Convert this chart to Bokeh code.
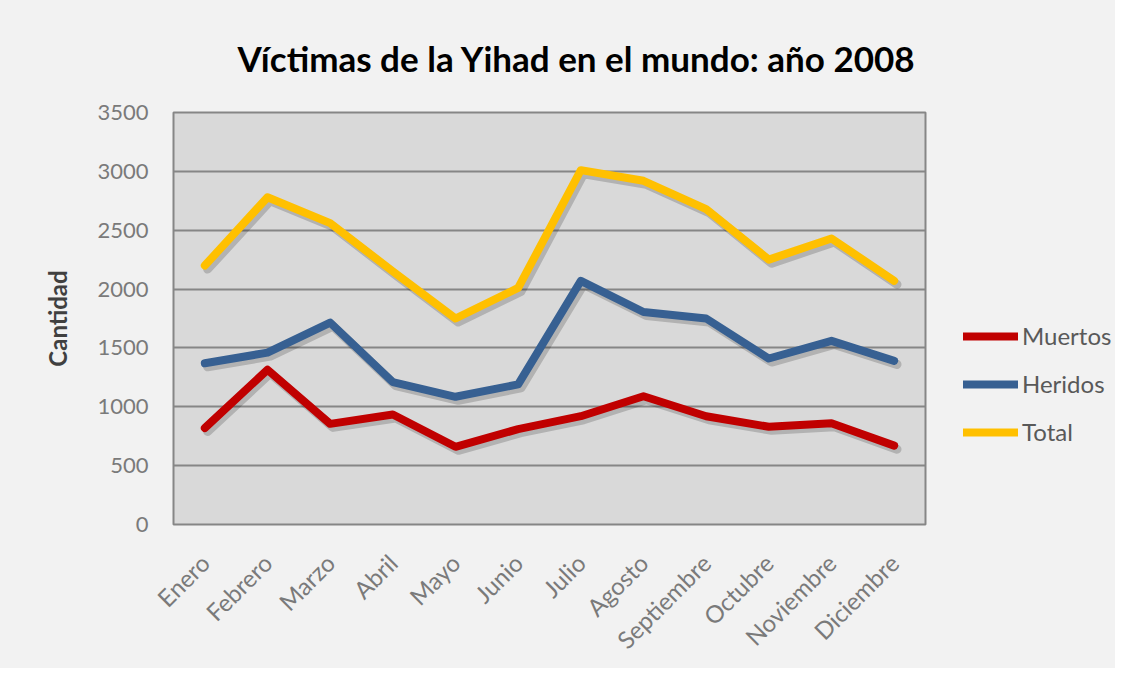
import math
from bokeh.plotting import figure
from bokeh.layouts import row
from bokeh.models import (FactorRange, Range1d, FixedTicker, Legend, LegendItem,
                          ColumnDataSource)
from bokeh.transform import dodge
from bokeh.embed import file_html
from bokeh.resources import INLINE

meses = ["Enero", "Febrero", "Marzo", "Abril", "Mayo", "Junio", "Julio",
         "Agosto", "Septiembre", "Octubre", "Noviembre", "Diciembre"]
muertos = [820, 1315, 855, 935, 660, 810, 920, 1090, 920, 830, 860, 670]
heridos = [1370, 1460, 1715, 1210, 1085, 1190, 2070, 1805, 1750, 1410, 1560, 1390]
total = [2200, 2780, 2560, 2150, 1750, 2010, 3010, 2920, 2680, 2250, 2430, 2070]
y_ticks = [0, 500, 1000, 1500, 2000, 2500, 3000, 3500]

series_names = ["Muertos", "Heridos", "Total"]
series_values = [muertos, heridos, total]
series_colors = ["#c00000", "#376092", "#ffc000"]

FONT = "Lato"
BG = "#f2f2f2"

p = figure(width=935, height=668, output_backend="svg", toolbar_location=None,
           x_range=FactorRange(factors=meses, range_padding=0),
           y_range=Range1d(0, 3500),
           min_border_left=173, min_border_right=10, min_border_top=109,
           min_border_bottom=144,
           title="Víctimas de la Yihad en el mundo: año 2008")

p.background_fill_color = "#d9d9d9"
p.border_fill_color = BG
p.outline_line_color = "#868686"
p.outline_line_width = 2

p.title.text_font = FONT
p.title.text_font_size = "35px"
p.title.text_font_style = "bold"
p.title.text_color = "#000000"
p.title.align = "left"
p.title.offset = 64
p.title.standoff = 68

p.xgrid.grid_line_color = None
p.ygrid.grid_line_color = "#868686"
p.ygrid.grid_line_width = 2

p.yaxis.ticker = FixedTicker(ticks=y_ticks)
p.yaxis.axis_line_color = None
p.yaxis.major_tick_line_color = None
p.yaxis.minor_tick_line_color = None
p.yaxis.major_label_text_font = FONT
p.yaxis.major_label_text_font_size = "22px"
p.yaxis.major_label_text_color = "#7a7a7a"
p.yaxis.major_label_standoff = 19
p.yaxis.axis_label = "Cantidad"
p.yaxis.axis_label_text_font = FONT
p.yaxis.axis_label_text_font_size = "24px"
p.yaxis.axis_label_text_font_style = "bold"
p.yaxis.axis_label_text_color = "#404040"
p.yaxis.axis_label_standoff = 22

p.xaxis.axis_line_color = None
p.xaxis.major_tick_line_color = None
p.xaxis.minor_tick_line_color = None
p.xaxis.major_label_orientation = math.pi / 4
p.xaxis.major_label_text_font = FONT
p.xaxis.major_label_text_font_size = "24px"
p.xaxis.major_label_text_color = "#7a7a7a"
p.xaxis.major_label_standoff = 28

# legend panel: a second, axis-less figure of the same background
q = figure(width=180, height=668, output_backend="svg", toolbar_location=None,
           x_range=FactorRange(factors=meses, range_padding=0),
           y_range=Range1d(-2, -1),
           min_border=0, min_border_left=0, min_border_right=0,
           min_border_top=0, min_border_bottom=0)
q.axis.visible = False
q.grid.visible = False
q.background_fill_color = BG
q.border_fill_color = BG
q.outline_line_color = None

items = []
for name, vals, col in zip(series_names, series_values, series_colors):
    src = ColumnDataSource(data=dict(x=meses, y=vals))
    p.line(x=dodge("x", 0.045, range=p.x_range), y=dodge("y", -30), source=src,
           line_color="#000000", line_alpha=0.18, line_width=9,
           line_cap="round", line_join="round")
    p.line(x="x", y="y", source=src, line_color=col, line_width=8,
           line_cap="round", line_join="round")
    # same series in the legend panel (outside its visible range)
    r = q.line(x="x", y="y", source=src, line_color=col, line_width=8,
               line_cap="round", line_join="round")
    items.append(LegendItem(label=name, renderers=[r]))

legend = Legend(items=items, location=(28, 78), orientation="vertical",
                background_fill_alpha=0, border_line_color=None,
                label_text_font=FONT, label_text_font_size="24px",
                label_text_color="#595959", glyph_width=55, glyph_height=24,
                label_height=24, spacing=19, padding=0, margin=0,
                label_standoff=4)
q.add_layout(legend)

layout = row(p, q, spacing=0, styles={"background-color": BG})
open("out.html", "w").write(file_html(layout, INLINE))
